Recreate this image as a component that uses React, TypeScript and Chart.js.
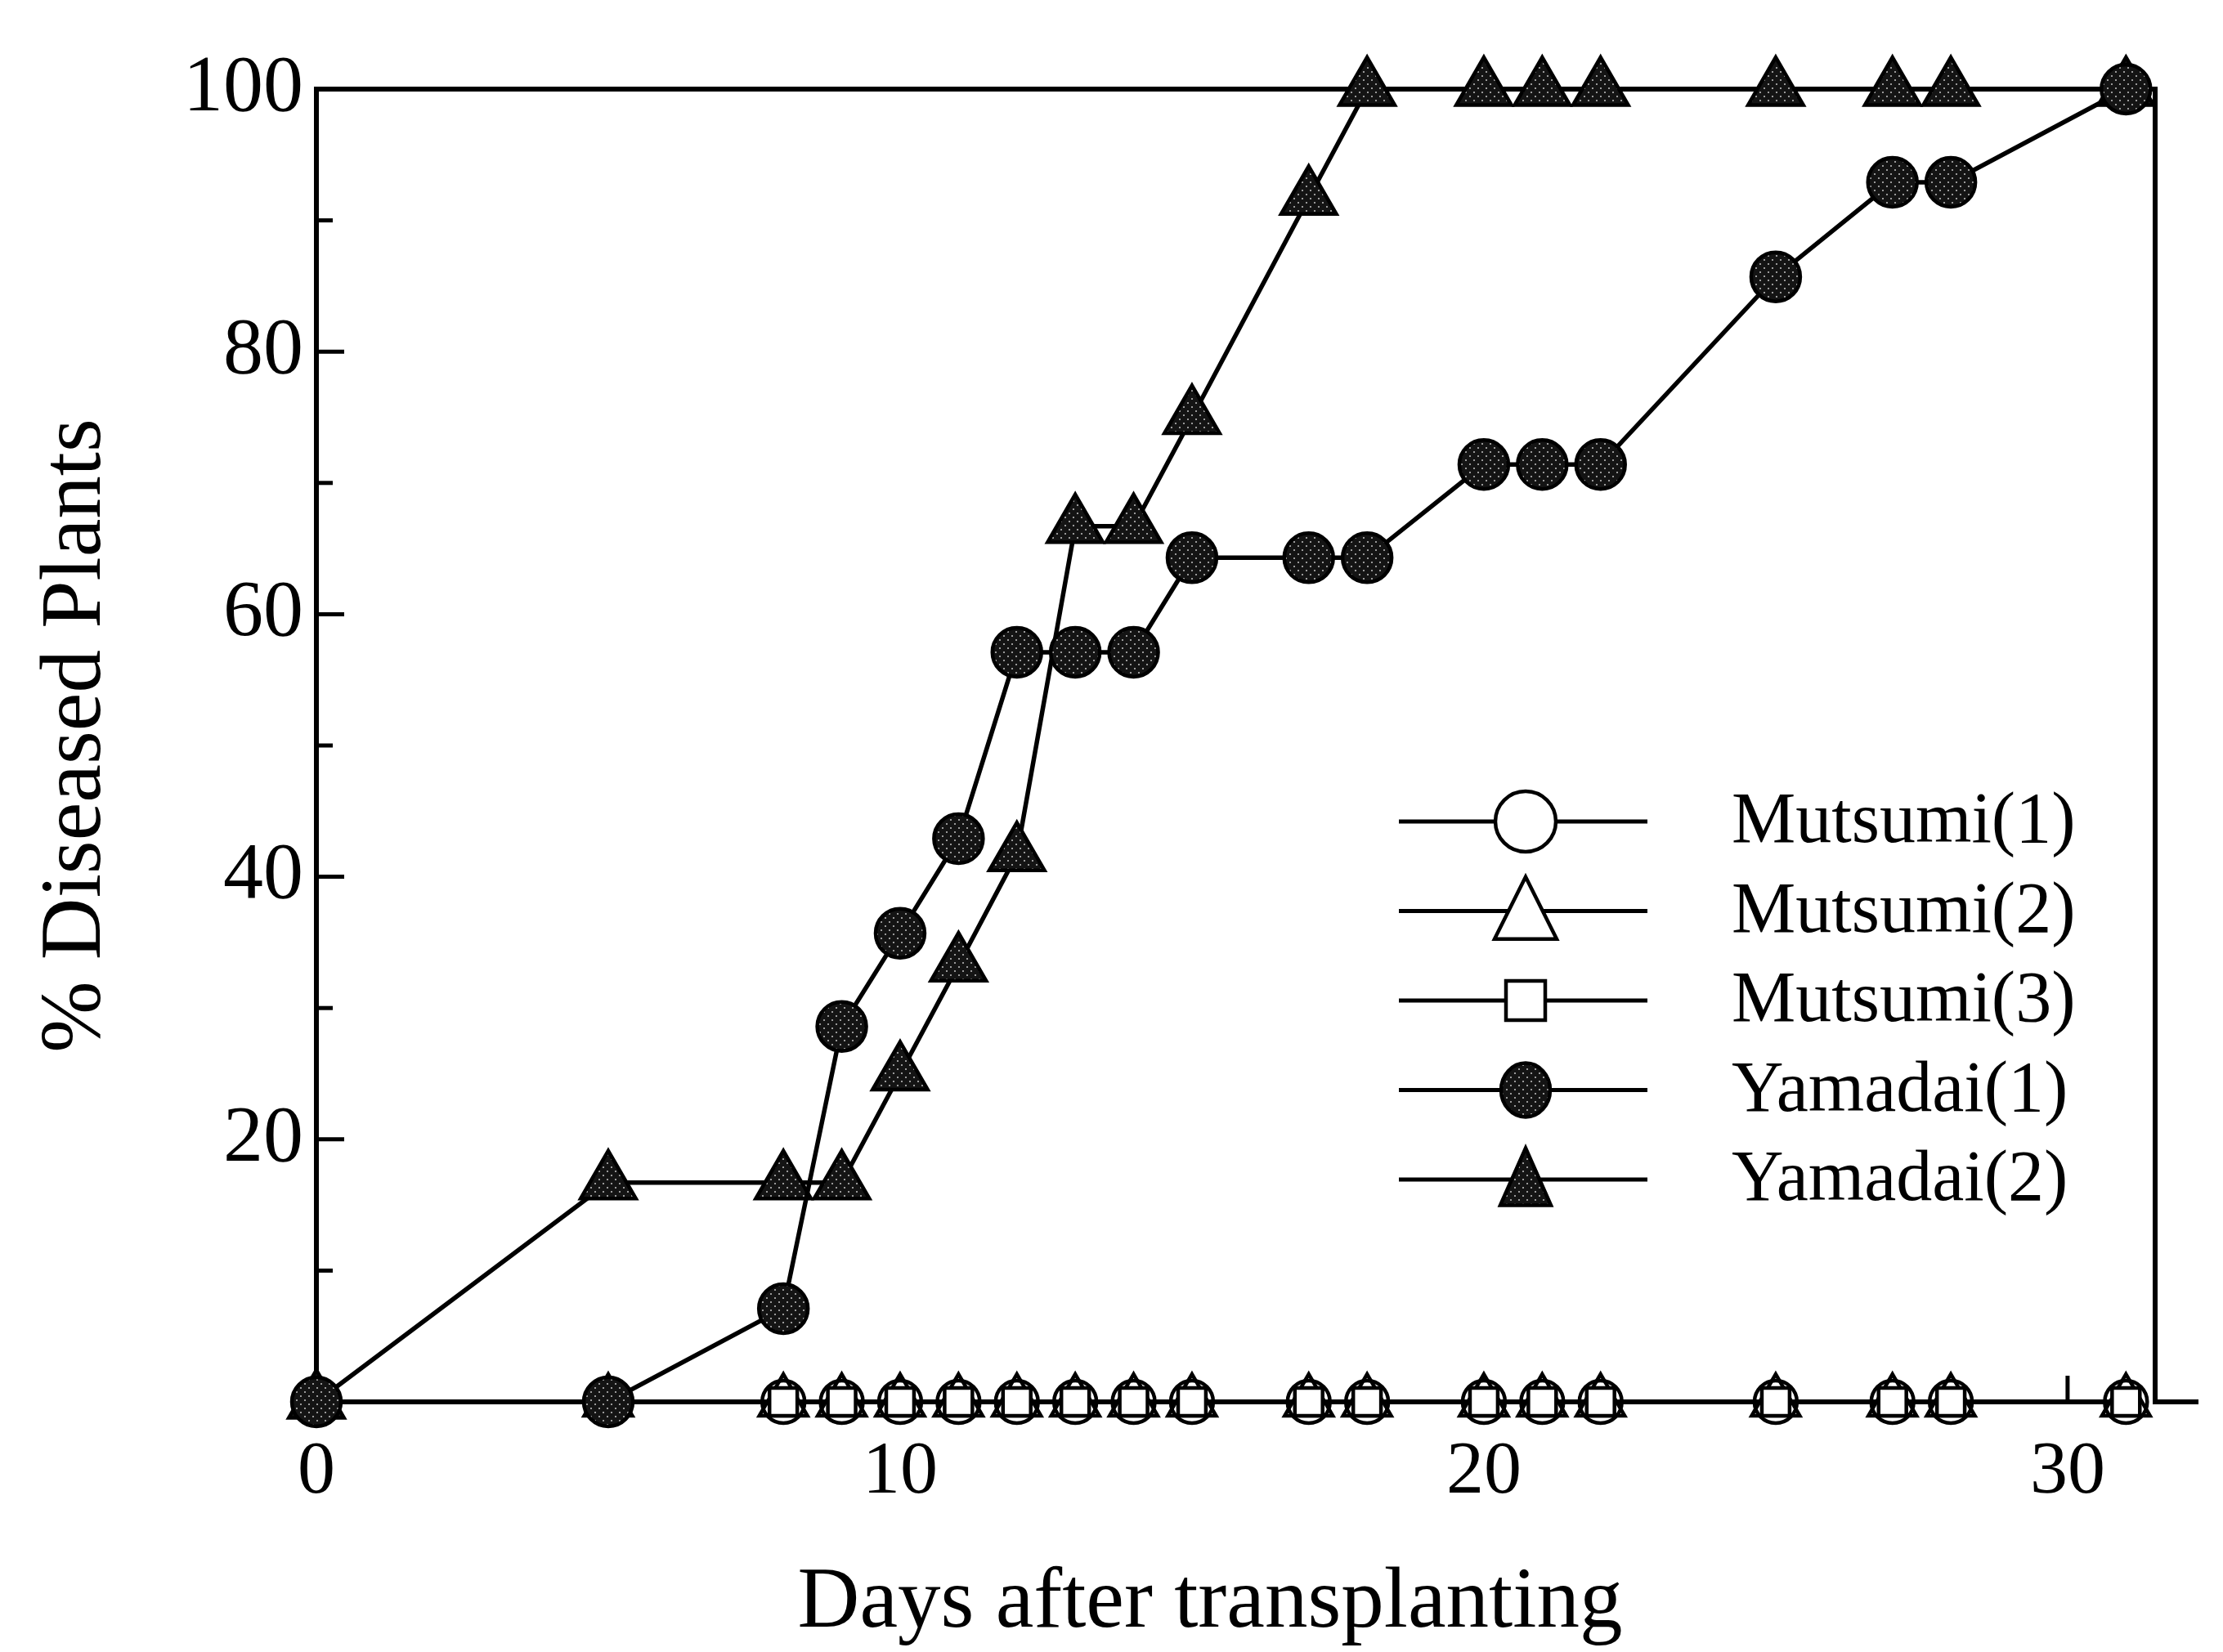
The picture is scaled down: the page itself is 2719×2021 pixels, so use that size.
import React, { useEffect, useRef } from 'react';
import { Chart, registerables } from 'chart.js';

Chart.register(...registerables);

// ---------------- data ----------------
const days = [0, 5, 8, 9, 10, 11, 12, 13, 14, 15, 17, 18, 20, 21, 22, 25, 27, 28, 31];
const mutsumi1 = [0, 0, 0, 0, 0, 0, 0, 0, 0, 0, 0, 0, 0, 0, 0, 0, 0, 0, 0];
const mutsumi2 = [0, 0, 0, 0, 0, 0, 0, 0, 0, 0, 0, 0, 0, 0, 0, 0, 0, 0, 0];
const mutsumi3 = [0, 0, 0, 0, 0, 0, 0, 0, 0, 0, 0, 0, 0, 0, 0, 0, 0, 0, 0];
const yamadai1 = [0, 0, 7.1, 28.6, 35.7, 42.9, 57.1, 57.1, 57.1, 64.3, 64.3, 64.3, 71.4, 71.4, 71.4, 85.7, 92.9, 92.9, 100];
const yamadai2 = [0, 16.7, 16.7, 16.7, 25, 33.3, 41.7, 66.7, 66.7, 75, 91.7, 100, 100, 100, 100, 100, 100, 100, 100];
const seriesLabels = ['Mutsumi(1)', 'Mutsumi(2)', 'Mutsumi(3)', 'Yamadai(1)', 'Yamadai(2)'];
const xTickValues = [0, 10, 20, 30];
const yMajorTicks = [20, 40, 60, 80, 100];
const yMinorTicks = [10, 30, 50, 70, 90];
const xTitle = 'Days after transplanting';
const yTitle = '% Diseased Plants';

// ---------------- layout / style ----------------
const W = 2719;
const H = 2021;
const FONT = '"Liberation Serif", "DejaVu Serif", "Times New Roman", serif';
const PLOT = { left: 387, right: 2636, top: 109, bottom: 1715 };
const X_MAX = 31.5;
const LEGEND = { lineX1: 1711, lineX2: 2015, markerX: 1866, textX: 2118, top: 1005, step: 109.5, font: 88 };

type Marker = { kind: 'circle' | 'triangle' | 'rect'; w: number; h: number; filled: boolean };
const legendMarkers: Marker[] = [
  { kind: 'circle', w: 74, h: 74, filled: false },
  { kind: 'triangle', w: 76, h: 76, filled: false },
  { kind: 'rect', w: 48, h: 48, filled: false },
  { kind: 'circle', w: 60, h: 66, filled: true },
  { kind: 'triangle', w: 62, h: 70, filled: true },
];

function makeStipple(): CanvasPattern | string {
  const c = document.createElement('canvas');
  c.width = 10;
  c.height = 10;
  const g = c.getContext('2d');
  if (!g) return '#111';
  g.fillStyle = '#141414';
  g.fillRect(0, 0, 10, 10);
  g.fillStyle = '#9a9a9a';
  g.fillRect(2, 2, 2, 2);
  g.fillRect(7, 7, 2, 2);
  const p = g.createPattern(c, 'repeat');
  return p || '#111';
}

function drawMarker(ctx: CanvasRenderingContext2D, m: Marker, x: number, y: number, fill: any) {
  ctx.save();
  ctx.lineWidth = 4.5;
  ctx.strokeStyle = '#000';
  ctx.fillStyle = m.filled ? fill : '#fff';
  ctx.beginPath();
  if (m.kind === 'circle') {
    ctx.ellipse(x, y, m.w / 2, m.h / 2, 0, 0, Math.PI * 2);
  } else if (m.kind === 'triangle') {
    ctx.moveTo(x, y - m.h * 0.55);
    ctx.lineTo(x + m.w / 2, y + m.h * 0.45);
    ctx.lineTo(x - m.w / 2, y + m.h * 0.45);
    ctx.closePath();
  } else {
    ctx.rect(x - m.w / 2, y - m.h / 2, m.w, m.h);
  }
  ctx.fill();
  ctx.stroke();
  ctx.restore();
}

export default function App() {
  const ref = useRef<HTMLCanvasElement>(null);

  useEffect(() => {
    const canvas = ref.current;
    if (!canvas) return;
    const stipple = makeStipple();

    const toPts = (ys: number[]) => days.map((d, i) => ({ x: d, y: ys[i] }));

    const framePlugin = {
      id: 'framePlugin',
      beforeDatasetsDraw(chart: any) {
        const { ctx, chartArea: a, scales } = chart;
        const xs = scales.x;
        const ys = scales.y;
        const y0 = ys.getPixelForValue(0);
        ctx.save();
        ctx.strokeStyle = '#000';
        ctx.lineWidth = 6;
        ctx.lineCap = 'square';
        ctx.beginPath();
        ctx.moveTo(a.left, y0);
        ctx.lineTo(a.left, a.top);
        ctx.lineTo(a.right, a.top);
        ctx.lineTo(a.right, y0);
        ctx.lineTo(a.right + 50, y0);
        ctx.stroke();
        ctx.lineWidth = 5;
        ctx.lineCap = 'butt';
        yMajorTicks.forEach((v) => {
          const py = ys.getPixelForValue(v);
          ctx.beginPath();
          ctx.moveTo(a.left, py);
          ctx.lineTo(a.left + 34, py);
          ctx.stroke();
        });
        yMinorTicks.forEach((v) => {
          const py = ys.getPixelForValue(v);
          ctx.beginPath();
          ctx.moveTo(a.left, py);
          ctx.lineTo(a.left + 20, py);
          ctx.stroke();
        });
        xTickValues.forEach((v) => {
          const px = xs.getPixelForValue(v);
          ctx.beginPath();
          ctx.moveTo(px, y0);
          ctx.lineTo(px, y0 - 32);
          ctx.stroke();
        });
        ctx.restore();
      },
      afterDraw(chart: any) {
        const ctx = chart.ctx;
        ctx.save();
        ctx.fillStyle = '#000';
        ctx.textAlign = 'center';
        ctx.textBaseline = 'middle';
        ctx.font = `105px ${FONT}`;
        ctx.fillText(xTitle, 1480, 1962);
        ctx.translate(94, 900);
        ctx.rotate(-Math.PI / 2);
        ctx.fillText(yTitle, 0, 0);
        ctx.restore();

        // legend
        ctx.save();
        seriesLabels.forEach((label, i) => {
          const yy = LEGEND.top + i * LEGEND.step;
          ctx.strokeStyle = '#000';
          ctx.lineWidth = 5;
          ctx.beginPath();
          ctx.moveTo(LEGEND.lineX1, yy);
          ctx.lineTo(LEGEND.lineX2, yy);
          ctx.stroke();
          drawMarker(ctx, legendMarkers[i], LEGEND.markerX, yy, stipple);
          ctx.fillStyle = '#000';
          ctx.font = `${LEGEND.font}px ${FONT}`;
          ctx.textAlign = 'left';
          ctx.textBaseline = 'middle';
          ctx.fillText(label, LEGEND.textX, yy + 2);
        });
        ctx.restore();
      },
    };

    const base = {
      showLine: true,
      borderColor: '#000',
      borderWidth: 5.5,
      pointBorderColor: '#000',
      pointBorderWidth: 4.5,
      pointHoverRadius: 0,
      tension: 0,
      fill: false,
      clip: false as const,
    };

    const chart = new Chart(canvas, {
      type: 'line',
      data: {
        datasets: [
          { ...base, label: seriesLabels[0], data: toPts(mutsumi1), pointStyle: 'circle', pointRadius: 26, pointBackgroundColor: '#fff', order: 5 },
          { ...base, label: seriesLabels[1], data: toPts(mutsumi2), pointStyle: 'triangle', pointRadius: 34, pointBackgroundColor: 'rgba(255,255,255,0)', order: 4 },
          { ...base, label: seriesLabels[2], data: toPts(mutsumi3), pointStyle: 'rect', pointRadius: 24, pointBackgroundColor: '#fff', order: 3 },
          { ...base, label: seriesLabels[3], data: toPts(yamadai1), pointStyle: 'circle', pointRadius: 30, pointBackgroundColor: stipple as any, order: 1 },
          { ...base, label: seriesLabels[4], data: toPts(yamadai2), pointStyle: 'triangle', pointRadius: 39, pointBackgroundColor: stipple as any, order: 2 },
        ],
      },
      options: {
        responsive: false,
        maintainAspectRatio: false,
        animation: false,
        devicePixelRatio: 1,
        events: [],
        layout: { padding: { left: 0, top: PLOT.top, right: W - PLOT.right, bottom: 0 } },
        plugins: { legend: { display: false }, tooltip: { enabled: false }, title: { display: false } },
        scales: {
          x: {
            type: 'linear',
            min: 0,
            max: X_MAX,
            grid: { display: false, drawTicks: false },
            border: { display: false },
            afterBuildTicks: (s: any) => {
              s.ticks = xTickValues.map((v) => ({ value: v }));
            },
            afterFit: (s: any) => {
              s.height = H - PLOT.bottom;
            },
            ticks: {
              color: '#000',
              font: { family: FONT, size: 92 },
              padding: 32,
              maxRotation: 0,
              autoSkip: false,
            },
          },
          y: {
            type: 'linear',
            min: 0,
            max: 100,
            grid: { display: false, drawTicks: false },
            border: { display: false },
            afterBuildTicks: (s: any) => {
              s.ticks = yMajorTicks.map((v) => ({ value: v }));
            },
            afterFit: (s: any) => {
              s.width = PLOT.left;
            },
            ticks: {
              color: '#000',
              font: { family: FONT, size: 98 },
              padding: 16,
              autoSkip: false,
            },
          },
        },
      },
      plugins: [framePlugin],
    });

    return () => chart.destroy();
  }, []);

  return (
    <div style={{ position: 'absolute', left: 0, top: 0, width: W, height: H, background: '#fff' }}>
      <canvas ref={ref} width={W} height={H} style={{ display: 'block', width: W, height: H }} />
    </div>
  );
}
